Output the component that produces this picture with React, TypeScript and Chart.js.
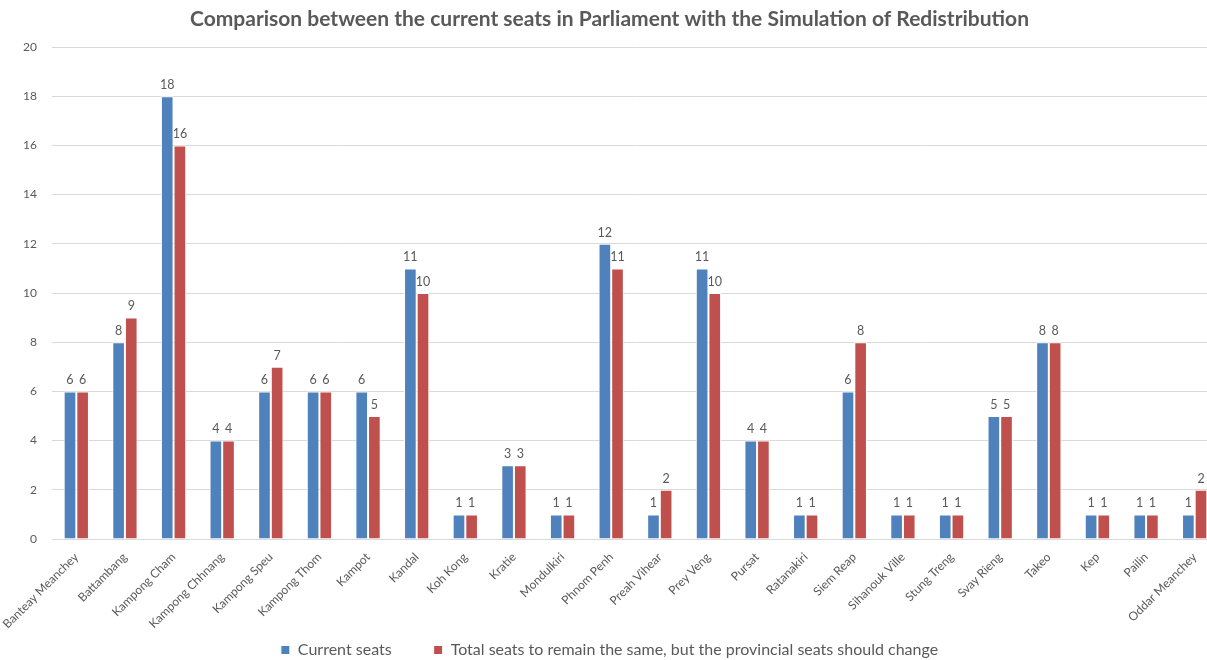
import React, { useEffect, useRef } from 'react';
import { Chart, registerables } from 'chart.js';

Chart.register(...registerables);

const provinces = [
  'Banteay Meanchey', 'Battambang', 'Kampong Cham', 'Kampong Chhnang', 'Kampong Speu',
  'Kampong Thom', 'Kampot', 'Kandal', 'Koh Kong', 'Kratie', 'Mondulkiri', 'Phnom Penh',
  'Preah Vihear', 'Prey Veng', 'Pursat', 'Ratanakiri', 'Siem Reap', 'Sihanouk Ville',
  'Stung Treng', 'Svay Rieng', 'Takeo', 'Kep', 'Pailin', 'Oddar Meanchey',
];
const currentSeats = [6, 8, 18, 4, 6, 6, 6, 11, 1, 3, 1, 12, 1, 11, 4, 1, 6, 1, 1, 5, 8, 1, 1, 1];
const simulatedSeats = [6, 9, 16, 4, 7, 6, 5, 10, 1, 3, 1, 11, 2, 10, 4, 1, 8, 1, 1, 5, 8, 1, 1, 2];
const seriesNames = [
  'Current seats',
  'Total seats to remain the same, but the provincial seats should change',
];
const titleText = 'Comparison between the current seats in Parliament with the Simulation of Redistribution';

const FONT = 'Lato';
const GRAY = '#595959';

const dataLabels = {
  id: 'dataLabels',
  afterLayout(chart: any) {
    // let rotated category labels extend below the axis box without clipping
    if (chart.scales.x) chart.scales.x.bottom = chart.height;
  },
  afterDatasetsDraw(chart: any) {
    const ctx = chart.ctx;
    ctx.save();
    ctx.font = `12.5px ${FONT}`;
    ctx.fillStyle = GRAY;
    ctx.textAlign = 'center';
    ctx.textBaseline = 'bottom';
    chart.data.datasets.forEach((ds: any, i: number) => {
      const meta = chart.getDatasetMeta(i);
      meta.data.forEach((el: any, j: number) => {
        ctx.fillText(String(ds.data[j]), el.x, el.y - 5);
      });
    });
    ctx.restore();
  },
};

export default function App() {
  const ref = useRef<HTMLCanvasElement>(null);
  useEffect(() => {
    if (!ref.current) return;
    const chart = new Chart(ref.current, {
      type: 'bar',
      data: {
        labels: provinces,
        datasets: [
          {
            label: seriesNames[0],
            data: currentSeats,
            backgroundColor: '#4F81BD',
            borderColor: '#ffffff',
            borderWidth: 1,
            categoryPercentage: 0.52,
            barPercentage: 1,
          },
          {
            label: seriesNames[1],
            data: simulatedSeats,
            backgroundColor: '#C0504D',
            borderColor: '#ffffff',
            borderWidth: 1,
            categoryPercentage: 0.52,
            barPercentage: 1,
          },
        ],
      },
      options: {
        responsive: false,
        animation: false,
        layout: { padding: { left: 0, right: 0, top: 0, bottom: -8 } },
        plugins: {
          title: {
            display: true,
            text: titleText,
            color: GRAY,
            font: { family: FONT, size: 21, weight: 'bold', lineHeight: 1.2 },
            padding: { top: 7, bottom: 14.8 },
          },
          legend: {
            position: 'bottom',
            labels: {
              color: GRAY,
              font: { family: FONT, size: 16 },
              boxWidth: 9,
              boxHeight: 9,
              padding: 42,
            },
          },
          tooltip: { enabled: false },
        },
        scales: {
          x: {
            grid: { display: false },
            border: { display: true, color: '#D9D9D9' },
            ticks: {
              color: GRAY,
              font: { family: FONT, size: 12 },
              maxRotation: 45,
              minRotation: 45,
              autoSkip: false,
            },
            afterFit: (s: any) => { s.height = 61; },
          },
          y: {
            min: 0,
            max: 20,
            grid: { color: '#D9D9D9', drawTicks: false },
            border: { display: false },
            ticks: {
              stepSize: 2,
              color: GRAY,
              font: { family: FONT, size: 12 },
              padding: 15,
            },
            afterFit: (s: any) => { s.width = 52; },
          },
        },
      },
      plugins: [dataLabels],
    });
    return () => chart.destroy();
  }, []);

  return (
    <div style={{ position: 'fixed', left: 0, top: 0, width: 1207, height: 660, overflow: 'hidden', background: '#fff' }}>
      <canvas ref={ref} width={1219} height={660} />
    </div>
  );
}
